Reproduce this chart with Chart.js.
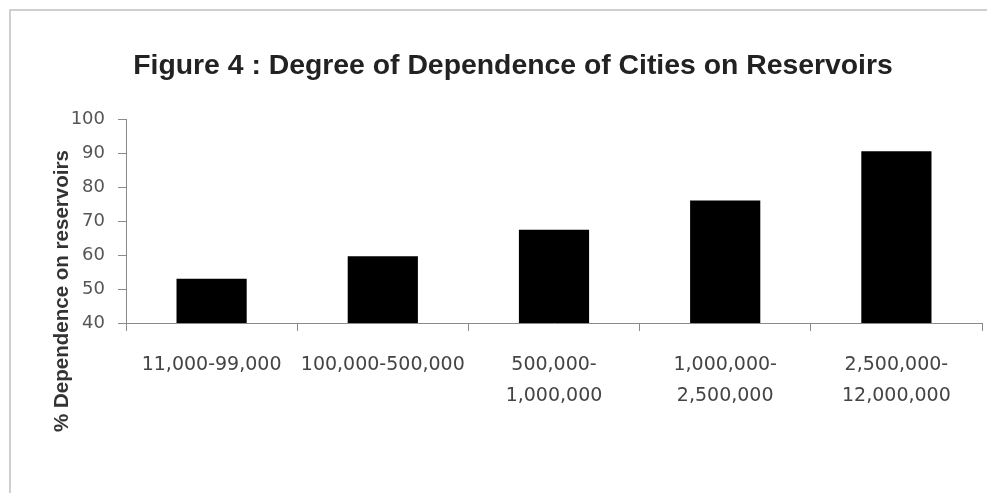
<!DOCTYPE html>
<html>
<head>
<meta charset="utf-8">
<script src="https://cdn.jsdelivr.net/npm/chart.js@4.4.1/dist/chart.umd.min.js"></script>
<style>
  html, body { margin: 0; padding: 0; background: #fff; }
  #wrap { position: relative; width: 987px; height: 493px; }
  #frame { position: absolute; left: 9px; top: 9px; right: 0; bottom: 0;
           border-top: 2px solid #cfcfcf; border-left: 2px solid #cfcfcf; pointer-events: none; }
  canvas { position: absolute; left: 0; top: 0; }
</style>
</head>
<body>
<div id="wrap">
  <canvas id="c" width="987" height="493"></canvas>
  <div id="frame"></div>
</div>
<script>
// ---- data ----
const titleText = 'Figure 4 : Degree of Dependence of Cities on Reservoirs';
const yAxisTitle = '% Dependence on reservoirs';
const categories = [
  ['11,000-99,000'],
  ['100,000-500,000'],
  ['500,000-', '1,000,000'],
  ['1,000,000-', '2,500,000'],
  ['2,500,000-', '12,000,000']
];
const dependence = [53, 59.6, 67.4, 76, 90.5];
const yMin = 40, yMax = 100, yStep = 10;

// ---- styling helpers ----
const narrow = "'Liberation Sans Narrow', 'Liberation Sans', Arial, sans-serif";
const wide = "'DejaVu Sans', Verdana, sans-serif";
function fitSize(text, weight, family, target) {
  const ctx = document.createElement('canvas').getContext('2d');
  ctx.font = weight + ' 100px ' + family;
  return 100 * target / ctx.measureText(text).width;
}
const titleSize = fitSize(titleText, 'bold', narrow, 760);
const yTitleSize = fitSize(yAxisTitle, 'bold', narrow, 282);
const titleTop = 66.5 - 0.6 * titleSize;
const titleBottom = 119 - titleTop - 1.2 * titleSize;
const leftPad = 44;

const yTitlePlugin = {
  id: 'yTitle',
  afterDraw(chart) {
    const ctx = chart.ctx;
    ctx.save();
    ctx.translate(62, 291);
    ctx.rotate(-Math.PI / 2);
    ctx.font = 'bold ' + yTitleSize + 'px ' + narrow;
    ctx.fillStyle = '#333';
    ctx.textAlign = 'center';
    ctx.textBaseline = 'middle';
    ctx.fillText(yAxisTitle, 0, 0);
    ctx.restore();
  }
};

new Chart(document.getElementById('c'), {
  type: 'bar',
  data: {
    labels: categories,
    datasets: [{
      data: dependence,
      backgroundColor: '#000',
      borderWidth: 0,
      barPercentage: 0.41,
      categoryPercentage: 1
    }]
  },
  options: {
    responsive: false,
    animation: false,
    layout: { padding: { left: leftPad, right: 5, top: 0, bottom: 0 } },
    plugins: {
      legend: { display: false },
      tooltip: { enabled: false },
      title: {
        display: true,
        text: titleText,
        color: '#222',
        font: { family: narrow, size: titleSize, weight: 'bold' },
        padding: { top: titleTop, bottom: titleBottom }
      }
    },
    scales: {
      x: {
        grid: { display: true, drawOnChartArea: false, drawTicks: true, tickLength: 8, color: '#8a8a8a' },
        border: { color: '#8a8a8a', width: 1 },
        ticks: { color: '#444', font: { family: wide, size: 19, lineHeight: 1.6 }, padding: 19, maxRotation: 0, autoSkip: false },
        afterFit(s) { s.height = 493 - 323; }
      },
      y: {
        min: yMin, max: yMax,
        grid: { display: true, drawOnChartArea: false, drawTicks: true, tickLength: 8, color: '#8a8a8a' },
        border: { color: '#8a8a8a', width: 1 },
        ticks: { stepSize: yStep, color: '#555', font: { family: wide, size: 18 }, padding: 13 },
        afterFit(s) { s.width = 126 - leftPad; }
      }
    }
  },
  plugins: [yTitlePlugin]
});
</script>
</body>
</html>
